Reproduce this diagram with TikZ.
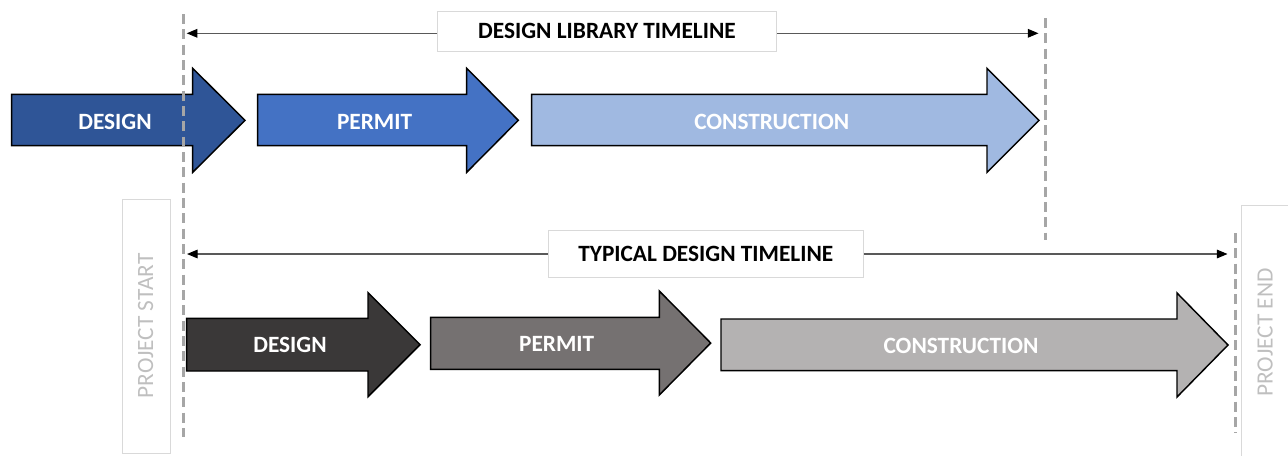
\documentclass[tikz,border=0pt]{standalone}
\usepackage{fontspec}
\setmainfont{Carlito}
\usetikzlibrary{arrows.meta}
\definecolor{dblue}{HTML}{2F5597}
\definecolor{mblue}{HTML}{4472C4}
\definecolor{lblue}{HTML}{A0B9E1}
\definecolor{dgray}{HTML}{3A3838}
\definecolor{mgray}{HTML}{757171}
\definecolor{lgray}{HTML}{B4B2B2}
\definecolor{dashc}{HTML}{A6A6A6}
\definecolor{boxc}{HTML}{D9D9D9}
\definecolor{ptext}{HTML}{BFBFBF}
\definecolor{tline}{HTML}{595959}
\begin{document}
\begin{tikzpicture}[x=0.75pt,y=-0.75pt,
  blockarrow/.style={draw=black,line width=1.1pt,miter limit=10},
  arrtext/.style={text=white,font=\bfseries\fontsize{17.5}{20}\selectfont,inner sep=0pt},
  lblbox/.style={draw=boxc,line width=0.75pt,fill=white,font=\bfseries\fontsize{17.5}{20}\selectfont,inner sep=0pt},
  pbox/.style={draw=boxc,line width=0.75pt},
  ptxt/.style={text=ptext,font=\fontsize{17.5}{20}\selectfont,rotate=90,inner sep=0pt},
  guide/.style={draw=dashc,line width=2.2pt,dash pattern=on 7.5pt off 4pt},
  tl/.style={draw=tline,line width=0.8pt,-{Triangle[length=8pt,width=6.5pt,color=black]}}]
\useasboundingbox (0,0) rectangle (1288,455);
\clip (0,0) rectangle (1288,455);

% top row arrows
\draw[blockarrow,fill=dblue] (11.7,94.3) -- (192.7,94.3) -- (192.7,68.3) -- (245,120.3) -- (192.7,172.3) -- (192.7,145.7) -- (11.7,145.7) -- cycle;
\draw[blockarrow,fill=mblue] (257.6,94.3) -- (466.7,94.3) -- (466.7,68.3) -- (518.3,120.3) -- (466.7,172.3) -- (466.7,145.7) -- (257.6,145.7) -- cycle;
\draw[blockarrow,fill=lblue] (531.7,94.3) -- (987,94.3) -- (987,68.3) -- (1039,120.3) -- (987,172.3) -- (987,145.7) -- (531.7,145.7) -- cycle;
\node[arrtext] (d1) at (115,121.7) {DESIGN};
\node[arrtext] (p1) at (374.6,121.7) {PERMIT};
\node[arrtext] (c1) at (771.7,121.7) {CONSTRUCTION};

% bottom row arrows
\draw[blockarrow,fill=dgray] (186.7,318.3) -- (368,318.3) -- (368,292.7) -- (420,344.7) -- (368,396.7) -- (368,371) -- (186.7,371) -- cycle;
\draw[blockarrow,fill=mgray] (430.7,317.3) -- (659.3,317.3) -- (659.3,291) -- (710.7,343) -- (659.3,395) -- (659.3,369.3) -- (430.7,369.3) -- cycle;
\draw[blockarrow,fill=lgray] (721,319) -- (1177,319) -- (1177,293) -- (1228,345) -- (1177,397) -- (1177,370.7) -- (721,370.7) -- cycle;
\node[arrtext] (d2) at (290,345) {DESIGN};
\node[arrtext] (p2) at (556.7,344) {PERMIT};
\node[arrtext] (c2) at (961,346) {CONSTRUCTION};

% project start / end
\node[pbox,minimum width=36.2pt,minimum height=190.3pt,inner sep=0pt] (startbox) at (146.85,326.15) {};
\node[ptxt] (starttxt) at (145.7,326) {PROJECT START};
\draw[pbox] (1241.7,470) -- (1241.7,205.7) -- (1300,205.7);
\node[ptxt] (endtxt) at (1265,332.5) {PROJECT END};

% guide lines
\coordinate (g1a) at (183.7,14);
\coordinate (g1b) at (183.7,437);
\coordinate (g2a) at (1045.7,18);
\coordinate (g2b) at (1045.7,240);
\coordinate (g3a) at (1235.7,233);
\coordinate (g3b) at (1235.7,433);
\draw[guide] (g1a) -- (g1b);
\draw[guide] (g2a) -- (g2b);
\draw[guide] (g3a) -- (g3b);

% timeline labels
\node[lblbox,minimum width=254.8pt,minimum height=29.5pt] (lib) at (607,31.4) {DESIGN LIBRARY TIMELINE};
\node[lblbox,minimum width=236.3pt,minimum height=35pt] (typ) at (705.8,254) {TYPICAL DESIGN TIMELINE};
\coordinate (t1l) at (186.7,33.3);
\coordinate (t1r) at (1038.5,33.3);
\coordinate (t2l) at (187,254);
\coordinate (t2r) at (1227.5,254);
\draw[tl] (lib.west |- t1l) -- (t1l);
\draw[tl] (lib.east |- t1r) -- (t1r);
\draw[tl] (typ.west) -- (t2l);
\draw[tl] (typ.east) -- (t2r);
\end{tikzpicture}
\end{document}
